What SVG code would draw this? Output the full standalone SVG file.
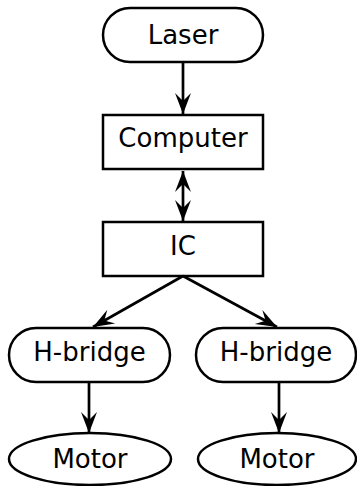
<svg xmlns="http://www.w3.org/2000/svg" width="357" height="486" viewBox="0 0 357 486">
  <style>
    .shape { fill: #ffffff; stroke: #000000; stroke-width: 2.5; }
    .label { font-family: "DejaVu Sans", sans-serif; font-size: 26px; fill: #000000; text-anchor: middle; }
    .edge { fill: none; stroke: #000000; stroke-width: 2.7; }
  </style>
  <defs>
    <marker id="head" markerUnits="userSpaceOnUse" markerWidth="24" markerHeight="20" viewBox="-22 -10 24 20" refX="0" refY="0" orient="auto-start-reverse">
      <path d="M0,0 L-21,-8 L-13,0 L-21,8 Z" fill="#000000"/>
    </marker>
  </defs>
  <rect width="357" height="486" fill="#ffffff"/>

  <g id="laser">
    <rect class="shape" x="103" y="8" width="160" height="54" rx="27" ry="27"/>
    <text class="label" x="183" y="44">Laser</text>
  </g>
  <g id="computer">
    <rect class="shape" x="103" y="115" width="160" height="54"/>
    <text class="label" x="183" y="147">Computer</text>
  </g>
  <g id="ic">
    <rect class="shape" x="103" y="222" width="160" height="54"/>
    <text class="label" x="183" y="255">IC</text>
  </g>
  <g id="hbridge-left">
    <rect class="shape" x="9" y="328" width="161" height="54" rx="27" ry="27"/>
    <text class="label" x="89.5" y="361">H-bridge</text>
  </g>
  <g id="hbridge-right">
    <rect class="shape" x="196" y="328" width="160" height="54" rx="27" ry="27"/>
    <text class="label" x="276" y="361">H-bridge</text>
  </g>
  <g id="motor-left">
    <ellipse class="shape" cx="90" cy="459" rx="81" ry="26"/>
    <text class="label" x="90" y="468">Motor</text>
  </g>
  <g id="motor-right">
    <ellipse class="shape" cx="277" cy="459" rx="79" ry="26"/>
    <text class="label" x="277" y="468">Motor</text>
  </g>

  <g id="connectors">
    <line class="edge" x1="183" y1="62" x2="183" y2="114" marker-end="url(#head)"/>
    <line class="edge" x1="183" y1="171" x2="183" y2="221" marker-start="url(#head)" marker-end="url(#head)"/>
    <line class="edge" x1="183" y1="276" x2="93" y2="327" marker-end="url(#head)"/>
    <line class="edge" x1="183" y1="276" x2="277" y2="327" marker-end="url(#head)"/>
    <line class="edge" x1="89" y1="382" x2="89" y2="433" marker-end="url(#head)"/>
    <line class="edge" x1="279" y1="382" x2="279" y2="433" marker-end="url(#head)"/>
  </g>
</svg>
